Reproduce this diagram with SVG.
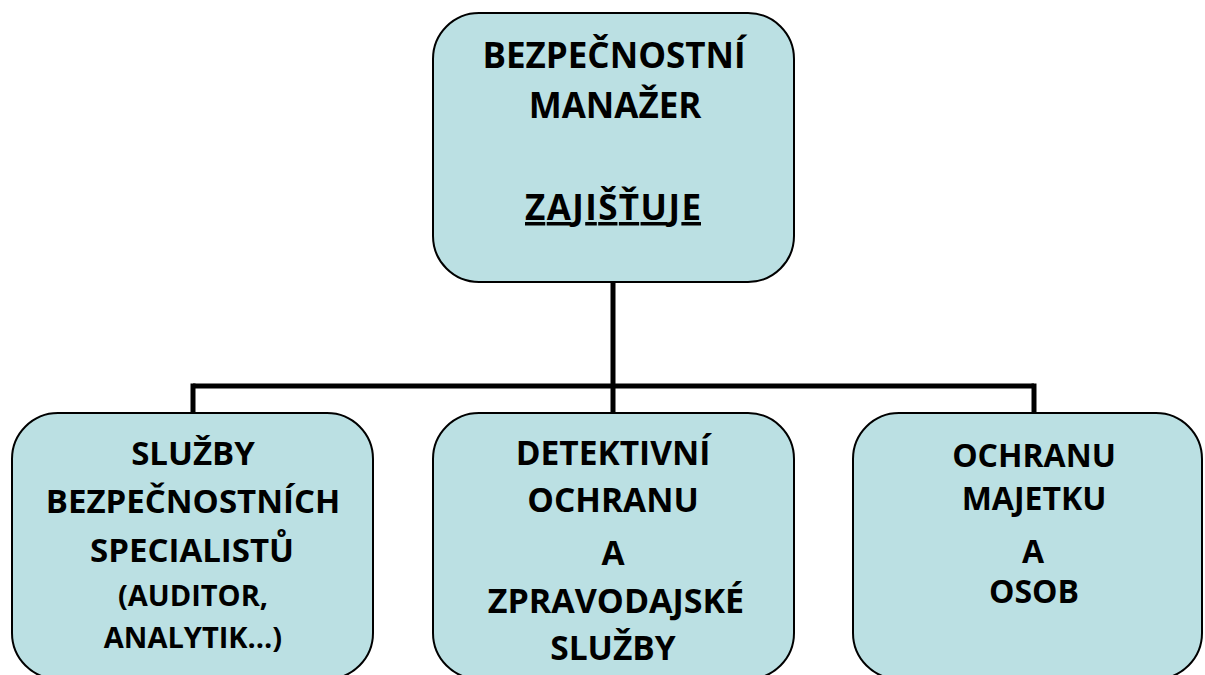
<svg xmlns="http://www.w3.org/2000/svg" width="1205" height="675" viewBox="0 0 1205 675">
  <style>
    .box { fill: #bbe0e3; stroke: #000; stroke-width: 2; }
    .wire { fill: none; stroke: #000; stroke-width: 5; }
    text { font-family: "Open Sans", "Noto Sans", "DejaVu Sans", sans-serif; font-weight: bold; fill: #000; text-anchor: middle; }
  </style>
  <rect width="1205" height="675" fill="#fff"/>

  <!-- org-chart connectors -->
  <g id="connectors">
    <path class="wire" d="M613,283 V386"/>
    <path class="wire" d="M193,386 H1034"/>
    <path class="wire" d="M193,383.5 V413"/>
    <path class="wire" d="M613,386 V413"/>
    <path class="wire" d="M1034,383.5 V413"/>
  </g>

  <g id="manager">
    <rect class="box" x="433" y="13" width="361" height="269" rx="46" ry="46"/>
    <text font-size="35" x="614" y="68">BEZPEČNOSTNÍ</text>
    <text font-size="35" x="615" y="118">MANAŽER</text>
    <text font-size="35" x="613" y="220" text-decoration="underline" textLength="176" lengthAdjust="spacing">ZAJIŠŤUJE</text>
  </g>

  <g id="specialists">
    <rect class="box" x="12" y="413" width="361" height="266" rx="46" ry="46"/>
    <text font-size="33" x="193" y="465">SLUŽBY</text>
    <text font-size="33" x="193" y="513">BEZPEČNOSTNÍCH</text>
    <text font-size="33" x="192" y="562">SPECIALISTŮ</text>
    <text font-size="29" x="193" y="606">(AUDITOR,</text>
    <text font-size="29" x="193" y="648">ANALYTIK…)</text>
  </g>

  <g id="detective">
    <rect class="box" x="433" y="413" width="361" height="266" rx="46" ry="46"/>
    <text font-size="33.5" x="613" y="465">DETEKTIVNÍ</text>
    <text font-size="33.5" x="613" y="512">OCHRANU</text>
    <text font-size="33.5" x="613" y="565">A</text>
    <text font-size="34" x="616" y="613">ZPRAVODAJSKÉ</text>
    <text font-size="33.5" x="613" y="660">SLUŽBY</text>
  </g>

  <g id="property">
    <rect class="box" x="853" y="413" width="349" height="266" rx="46" ry="46"/>
    <text font-size="32" x="1034" y="467">OCHRANU</text>
    <text font-size="32" x="1034" y="510">MAJETKU</text>
    <text font-size="32" x="1033" y="563">A</text>
    <text font-size="32" x="1034" y="603">OSOB</text>
  </g>
</svg>
